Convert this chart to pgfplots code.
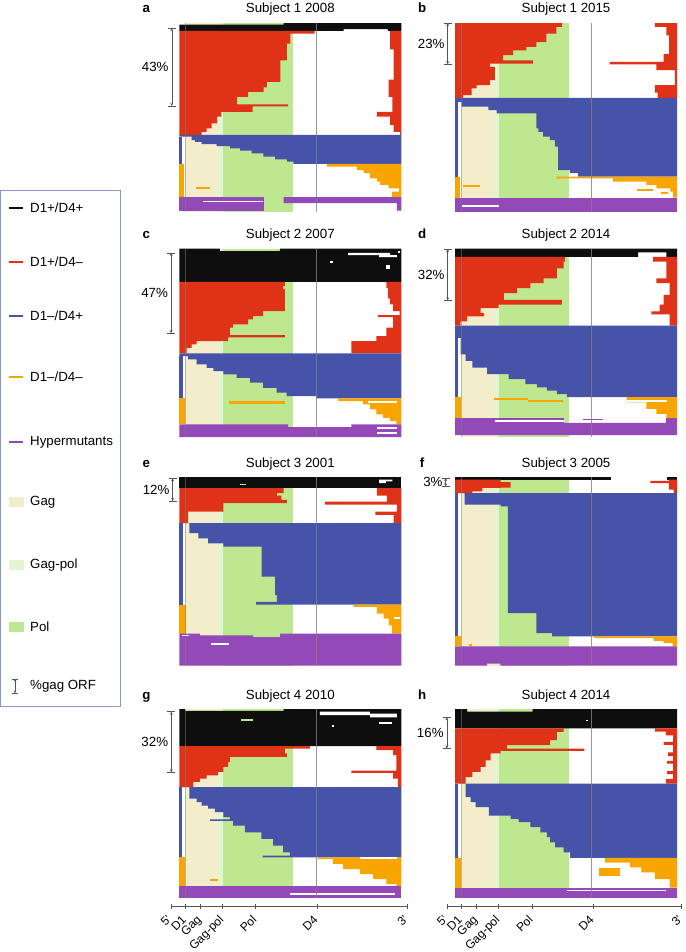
\documentclass[border=0pt]{standalone}
\usepackage{fontspec}
\setmainfont{Liberation Sans}
\usepackage{pgfplots}
\pgfplotsset{compat=1.18}
\usetikzlibrary{arrows.meta}

\definecolor{cBlack}{HTML}{0E0E0E}
\definecolor{cRed}{HTML}{E03216}
\definecolor{cBlue}{HTML}{4553A9}
\definecolor{cOrange}{HTML}{F8A500}
\definecolor{cPurple}{HTML}{9449B9}
\definecolor{cGag}{HTML}{F3EDCB}
\definecolor{cGagPol}{HTML}{E1F5D2}
\definecolor{cPol}{HTML}{BEE88F}
\definecolor{cFrame}{HTML}{8A96C8}
\definecolor{cAxis}{HTML}{555555}

\newcommand{\lab}{\fontsize{13.3pt}{15pt}\selectfont}
\newcommand{\tkfont}{\fontsize{12pt}{13.5pt}\selectfont}

\pgfplotsset{
  panel/.style={scale only axis, width=222pt, height=188.5pt,
    xmin=0, xmax=100, ymin=0, ymax=100, y dir=reverse, hide axis, clip=false,
    anchor=north west},
  fBk/.style={fill=cBlack, draw=none},
  fRd/.style={fill=cRed, draw=none},
  fBl/.style={fill=cBlue, draw=none},
  fOr/.style={fill=cOrange, draw=none},
  fPu/.style={fill=cPurple, draw=none},
  fWh/.style={fill=white, draw=none},
  fPl/.style={fill=cPol, draw=none},
  % genome position axis: same scale as the panels, a little wider
  ticks/.style={scale only axis, height=1pt, anchor=south west,
    ymin=0, ymax=1, axis y line=none, axis x line*=bottom,
    axis line style={-, cAxis}, tick style={cAxis}, tick align=center,
    major tick length=5pt,
    xticklabels={{5'},D1,Gag,Gag-pol,Pol,D4,{3'}},
    xticklabel style={rotate=45, anchor=north east, font=\tkfont, inner sep=1pt, xshift=-6pt}},
}

% background regions and guide lines shared by all panels
\newcommand{\regions}{%
  \addplot[fill=cGag, draw=none] coordinates {(2.6,0)(17.5,0)(17.5,100)(2.6,100)};
  \addplot[fill=cGagPol, draw=none] coordinates {(17.5,0)(19.8,0)(19.8,100)(17.5,100)};
  \addplot[fill=cPol, draw=none] coordinates {(19.8,0)(51.2,0)(51.2,100)(19.8,100)};}
\newcommand{\guides}{%
  \addplot[gray, line width=0.5pt, opacity=0.5] coordinates {(2.6,0)(2.6,100)};
  \addplot[gray, line width=0.6pt, opacity=0.8] coordinates {(61.6,0)(61.6,100)};}
% %gag ORF bracket
\newcommand{\pct}[4]{%
  \draw[cAxis, line width=0.5pt, {Stealth[length=3pt,width=3pt]}-{Stealth[length=3pt,width=3pt]}]
    (axis cs:#1,#2) -- (axis cs:#1,#3);
  \draw[cAxis, line width=0.5pt] ([xshift=-4pt]axis cs:#1,#2) -- ([xshift=4pt]axis cs:#1,#2);
  \draw[cAxis, line width=0.5pt] ([xshift=-4pt]axis cs:#1,#3) -- ([xshift=4pt]axis cs:#1,#3);
  \node[anchor=east, font=\lab, inner sep=0pt] at ([xshift=-3pt]axis cs:#1,{(#2+#3)/2}) {#4};}
% panel letter and title
\newcommand{\head}[2]{%
  \node[anchor=base, yshift=10pt, font=\lab\bfseries, inner sep=0pt] at (axis description cs:-0.148,1) {#1};
  \node[anchor=base, yshift=10pt, font=\lab, inner sep=0pt] at (axis description cs:0.5,1) {#2};}

\begin{document}
\begin{tikzpicture}
\path[use as bounding box] (0,0) rectangle (685pt,-952pt);

% ---------------- legend ----------------
\draw[cFrame, line width=0.8pt] (0.6pt,-190pt) rectangle (120pt,-706pt);
\draw[cBlack, line width=1.6pt] (8.5pt,-208pt) -- (23pt,-208pt);
\node[anchor=west, font=\lab, inner sep=0pt] at (30pt,-208pt) {D1+/D4+};
\draw[cRed, line width=1.6pt] (8.5pt,-262pt) -- (23pt,-262pt);
\node[anchor=west, font=\lab, inner sep=0pt] at (30pt,-262pt) {D1+/D4–};
\draw[cBlue, line width=1.6pt] (8.5pt,-316pt) -- (23pt,-316pt);
\node[anchor=west, font=\lab, inner sep=0pt] at (30pt,-316pt) {D1–/D4+};
\draw[cOrange, line width=1.6pt] (8.5pt,-377pt) -- (23pt,-377pt);
\node[anchor=west, font=\lab, inner sep=0pt] at (30pt,-377pt) {D1–/D4–};
\draw[cPurple, line width=1.6pt] (8.5pt,-442pt) -- (23pt,-442pt);
\node[anchor=west, font=\lab, inner sep=0pt] at (30pt,-442pt) {Hypermutants};
\fill[cGag] (9pt,-497pt) rectangle (23.5pt,-507pt);
\node[anchor=west, font=\lab, inner sep=0pt] at (30pt,-502pt) {Gag};
\fill[cGagPol] (9pt,-560pt) rectangle (23.5pt,-570pt);
\node[anchor=west, font=\lab, inner sep=0pt] at (30pt,-565pt) {Gag-pol};
\fill[cPol] (9pt,-622pt) rectangle (23.5pt,-632pt);
\node[anchor=west, font=\lab, inner sep=0pt] at (30pt,-627pt) {Pol};
\draw[cAxis, line width=0.5pt, {Stealth[length=2.5pt,width=2.5pt]}-{Stealth[length=2.5pt,width=2.5pt]}] (15pt,-679pt) -- (15pt,-693pt);
\draw[cAxis, line width=0.5pt] (12pt,-679pt) -- (18pt,-679pt) (12pt,-693pt) -- (18pt,-693pt);
\node[anchor=west, font=\lab, inner sep=0pt] at (30pt,-686pt) {\%gag ORF};

% ---------------- a ----------------
\begin{axis}[panel, at={(179.3pt,-23pt)}]
\regions
\addplot[fBk] coordinates {(0,0.8)(47,0.8)(47,0)(100,0)(100,4.2)(94,4.2)(94,3.2)(74,3.2)(74,4.2)(0,4.2)};
\addplot[fRd] coordinates {(0,4.2)(61,4.2)(61,5.6)(50,5.6)(50,10.9)(48.5,10.9)(48.5,19.8)(45.5,19.8)(45.5,31.2)(39.4,31.2)(39.4,34.2)(38,34.2)(38,36.5)(31,36.5)(31,39.2)(26,39.2)(26,43.2)(49,43.2)(49,44.2)(33,44.2)(33,47.1)(19,47.1)(19,49.7)(17,49.7)(17,53.3)(14.6,53.3)(14.6,55.9)(12.3,55.9)(12.3,57.7)(10,57.7)(10,59.4)(0,59.4)};
\addplot[fRd] coordinates {(100,4.2)(95,4.2)(95,14)(96.5,14)(96.5,30)(94.3,30)(94.3,39.2)(96,39.2)(96,47.1)(89,47.1)(89,49.7)(95,49.7)(95,54)(96.5,54)(96.5,57.7)(99.5,57.7)(99.5,59.4)(100,59.4)};
\addplot[fBl] coordinates {(0,59.4)(0,60.3)(5.6,60.3)(5.6,62.1)(7,62.1)(7,63)(10,63)(10,64.2)(16.8,64.2)(16.8,65.3)(22.9,65.3)(22.9,66.5)(27.4,66.5)(27.4,67.7)(32.6,67.7)(32.6,69.1)(37.9,69.1)(37.9,70.9)(43.2,70.9)(43.2,72.3)(48.4,72.3)(48.4,73.5)(51.4,73.5)(51.4,74.8)(100,74.8)(100,59.4)};
\addplot[fBl] coordinates {(0,60.3)(1.2,60.3)(1.2,74.8)(0,74.8)};
\addplot[fOr] coordinates {(0,74.8)(2,74.8)(2,92.4)(0,92.4)};
\addplot[fOr] coordinates {(7.4,87.1)(13.8,87.1)(13.8,88.2)(7.4,88.2)};
\addplot[fOr] coordinates {(100,74.8)(66.5,74.8)(66.5,76.2)(80,76.2)(80,78)(83,78)(83,79.7)(86,79.7)(86,82.4)(89,82.4)(89,84.1)(90.5,84.1)(90.5,85.9)(94.3,85.9)(94.3,87.7)(99,87.7)(99,89.4)(95.8,89.4)(95.8,92.4)(100,92.4)};
\addplot[fPu] coordinates {(0,92.4)(38,92.4)(38,99.5)(0,99.5)};
\addplot[fPu] coordinates {(47,92.4)(100,92.4)(100,99.5)(98,99.5)(98,95.5)(47,95.5)};
\addplot[fWh] coordinates {(10.8,94.4)(37.9,94.4)(37.9,95.2)(10.8,95.2)};
\guides
\pct{-3.4}{2.8}{44}{43\%}
\head{a}{Subject 1 2008}
\end{axis}

% ---------------- b ----------------
\begin{axis}[panel, at={(455pt,-23pt)}]
\regions
\addplot[fRd] coordinates {(0,0)(48.3,0)(48.3,2.1)(45.7,2.1)(45.7,5.6)(41.2,5.6)(41.2,10.1)(36.7,10.1)(36.7,12.7)(32.2,12.7)(32.2,14.5)(26.2,14.5)(26.2,17.1)(21.7,17.1)(21.7,19.8)(35.2,19.8)(35.2,21.5)(15.7,21.5)(15.7,23.3)(18,23.3)(18,30.3)(15.7,30.3)(15.7,33)(9.7,33)(9.7,34.7)(7.5,34.7)(7.5,38.3)(3.7,38.3)(3.7,39.7)(0,39.7)};
\addplot[fRd] coordinates {(100,0)(90,0)(90,2.1)(95.2,2.1)(95.2,6.5)(96.5,6.5)(96.5,16.5)(94,16.5)(94,20.6)(69.7,20.6)(69.7,21.9)(90.7,21.9)(90.7,25)(99,25)(99,33)(90,33)(90,37)(91.3,37)(91.3,39.7)(100,39.7)};
\addplot[fBl] coordinates {(0,39.7)(0,41.8)(3,41.8)(3,44.4)(15,44.4)(15,46.2)(18.7,46.2)(18.7,48)(36.7,48)(36.7,55.9)(37.5,55.9)(37.5,57.7)(39.7,57.7)(39.7,60.3)(42.7,60.3)(42.7,62.1)(45,62.1)(45,65.6)(46.5,65.6)(46.5,78)(51.7,78)(51.7,79.7)(55.5,79.7)(55.5,81.5)(100,81.5)(100,39.7)};
\addplot[fBl] coordinates {(0,41.8)(1.5,41.8)(1.5,81.5)(0,81.5)};
\addplot[fOr] coordinates {(0,81.5)(2.2,81.5)(2.2,92.6)(0,92.6)};
\addplot[fOr] coordinates {(3.7,85.9)(11.2,85.9)(11.2,86.8)(3.7,86.8)};
\addplot[fOr] coordinates {(100,81.5)(45.7,81.5)(45.7,82.4)(71.2,82.4)(71.2,84.1)(86.2,84.1)(86.2,85.9)(90.7,85.9)(90.7,87.7)(97,87.7)(97,89.4)(98.2,89.4)(98.2,92.6)(100,92.6)};
\addplot[fOr] coordinates {(82,88)(89,88)(89,89)(82,89)};
\addplot[fOr] coordinates {(93,89.6)(96,89.6)(96,90.5)(93,90.5)};
\addplot[fPu] coordinates {(0,92.6)(100,92.6)(100,100)(0,100)};
\addplot[fWh] coordinates {(3,96.5)(20,96.5)(20,97.7)(3,97.7)};
\guides
\pct{-3.3}{0}{21.9}{23\%}
\head{b}{Subject 1 2015}
\end{axis}

% ---------------- c ----------------
\begin{axis}[panel, at={(179.3pt,-248.5pt)}]
\regions
\addplot[fBk] coordinates {(0,0)(18.3,0)(18.3,1.4)(45.3,1.4)(45.3,0)(100,0)(100,17.7)(0,17.7)};
\addplot[fWh] coordinates {(76,2.3)(95,2.3)(95,3.5)(98,3.5)(98,4.6)(90,4.6)(90,3.5)(76,3.5)};
\addplot[fWh] coordinates {(98.5,1.4)(99.5,1.4)(99.5,2.5)(98.5,2.5)};
\addplot[fWh] coordinates {(68,6.7)(69.2,6.7)(69.2,7.9)(68,7.9)};
\addplot[fWh] coordinates {(93.3,8.5)(94.8,8.5)(94.8,11.1)(93.3,11.1)};
\addplot[fRd] coordinates {(0,17.7)(47.5,17.7)(47.5,20)(46.8,20)(46.8,21.5)(47.5,21.5)(47.5,33.2)(37.8,33.2)(37.8,35.9)(33.3,35.9)(33.3,37.6)(31,37.6)(31,40.3)(24.3,40.3)(24.3,42)(22.8,42)(22.8,45.9)(47.5,45.9)(47.5,47.1)(22,47.1)(22,49.1)(7.8,49.1)(7.8,50.9)(5.5,50.9)(5.5,52.7)(3.3,52.7)(3.3,55.7)(0,55.7)};
\addplot[fRd] coordinates {(100,17.7)(93.3,17.7)(93.3,21)(94,21)(94,26.5)(94.8,26.5)(94.8,29.7)(96.3,29.7)(96.3,33.2)(99.2,33.2)(99.2,35.3)(89.5,35.3)(89.5,36.4)(96.3,36.4)(96.3,42)(93.3,42)(93.3,46.5)(88.8,46.5)(88.8,49.1)(77.5,49.1)(77.5,55.7)(100,55.7)};
\addplot[fBl] coordinates {(0,55.7)(0,57.1)(4,57.1)(4,58.8)(7.8,58.8)(7.8,61.5)(12.3,61.5)(12.3,63.3)(15.3,63.3)(15.3,65)(19.8,65)(19.8,66.8)(25.8,66.8)(25.8,68.6)(31.8,68.6)(31.8,71.2)(37.8,71.2)(37.8,73.9)(43.8,73.9)(43.8,76.5)(48.3,76.5)(48.3,78.3)(61.8,78.3)(61.8,79.5)(100,79.5)(100,55.7)};
\addplot[fBl] coordinates {(0,57.1)(1.5,57.1)(1.5,79.5)(0,79.5)};
\addplot[fOr] coordinates {(0,79.5)(2.5,79.5)(2.5,93.3)(0,93.3)};
\addplot[fOr] coordinates {(22.5,80.9)(47.5,80.9)(47.5,82.3)(22.5,82.3)};
\addplot[fOr] coordinates {(100,79.5)(71.5,79.5)(71.5,80.9)(82.8,80.9)(82.8,82.7)(85.8,82.7)(85.8,85.3)(88.8,85.3)(88.8,88)(91.8,88)(91.8,89.8)(94.8,89.8)(94.8,91.5)(97.8,91.5)(97.8,93.3)(100,93.3)};
\addplot[fWh] coordinates {(85,80.9)(98,80.9)(98,81.8)(85,81.8)};
\addplot[fPu] coordinates {(0,93.3)(49,93.3)(49,94.7)(77.5,94.7)(77.5,93.3)(100,93.3)(100,100)(0,100)};
\addplot[fWh] coordinates {(89,94.5)(98,94.5)(98,95.8)(89,95.8)};
\addplot[fWh] coordinates {(89,97.3)(98,97.3)(98,98.2)(89,98.2)};
\guides
\pct{-3.7}{2.3}{44.9}{47\%}
\head{c}{Subject 2 2007}
\end{axis}

% ---------------- d ----------------
\begin{axis}[panel, at={(455pt,-248.5pt)}]
\regions
\addplot[fBk] coordinates {(0,0)(100,0)(100,4.4)(95.2,4.4)(95.2,2.1)(82.5,2.1)(82.5,4.4)(0,4.4)};
\addplot[fRd] coordinates {(0,4.4)(49.6,4.4)(49.6,7)(48.9,7)(48.9,10.5)(45.9,10.5)(45.9,15.8)(39.9,15.8)(39.9,18.4)(33.9,18.4)(33.9,21)(28,21)(28,23.7)(22,23.7)(22,27.2)(48.1,27.2)(48.1,29.8)(19.7,29.8)(19.7,31.6)(11.5,31.6)(11.5,34.2)(13,34.2)(13,36)(5.5,36)(5.5,38.6)(2.5,38.6)(2.5,40.9)(0,40.9)};
\addplot[fRd] coordinates {(100,4.4)(89.2,4.4)(89.2,7)(95.2,7)(95.2,15.8)(90.7,15.8)(90.7,18.4)(96.7,18.4)(96.7,24.6)(94,24.6)(94,29.8)(92.2,29.8)(92.2,33.3)(88.5,33.3)(88.5,35)(96.7,35)(96.7,40.9)(100,40.9)};
\addplot[fBl] coordinates {(0,40.9)(0,47.4)(2.5,47.4)(2.5,56.1)(4.8,56.1)(4.8,59.6)(7.8,59.6)(7.8,63.2)(14.5,63.2)(14.5,66.7)(24.2,66.7)(24.2,69.3)(31.7,69.3)(31.7,71.9)(36.9,71.9)(36.9,73.7)(41.4,73.7)(41.4,75.4)(45.9,75.4)(45.9,77.2)(50.4,77.2)(50.4,78.9)(100,78.9)(100,40.9)};
\addplot[fBl] coordinates {(0,47.4)(1.5,47.4)(1.5,78.9)(0,78.9)};
\addplot[fOr] coordinates {(0,78.9)(2.5,78.9)(2.5,90)(0,90)};
\addplot[fOr] coordinates {(17.5,79.3)(33,79.3)(33,80.4)(17.5,80.4)};
\addplot[fOr] coordinates {(33,80.2)(48.5,80.2)(48.5,81.2)(33,81.2)};
\addplot[fOr] coordinates {(100,78.9)(77.3,78.9)(77.3,81.6)(86.2,81.6)(86.2,85.1)(90.7,85.1)(90.7,87.7)(95.2,87.7)(95.2,90)(100,90)};
\addplot[fWh] coordinates {(77.3,80.2)(95.5,80.2)(95.5,81.2)(77.3,81.2)};
\addplot[fPu] coordinates {(0,90)(49,90)(49,92.5)(95,92.5)(95,90)(100,90)(100,99)(0,99)};
\addplot[fPu] coordinates {(57.8,90.4)(66.8,90.4)(66.8,91.2)(57.8,91.2)};
\addplot[fWh] coordinates {(18.2,90.9)(48.9,90.9)(48.9,91.8)(18.2,91.8)};
\guides
\pct{-3.3}{0.3}{27.5}{32\%}
\head{d}{Subject 2 2014}
\end{axis}

% ---------------- e ----------------
\begin{axis}[panel, at={(179.3pt,-477pt)}]
\regions
\addplot[fBk] coordinates {(0,0)(100,0)(100,5.9)(0,5.9)};
\addplot[fPl] coordinates {(27.4,3.6)(30,3.6)(30,4.4)(27.4,4.4)};
\addplot[fWh] coordinates {(90,1.4)(96,1.4)(96,2.3)(93,2.3)(93,3.2)(90,3.2)};
\addplot[fRd] coordinates {(0,5.9)(47,5.9)(47,8.5)(44,8.5)(44,9.9)(46,9.9)(46,12.1)(48.4,12.1)(48.4,13.9)(19.8,13.9)(19.8,18.3)(4,18.3)(4,24.5)(0,24.5)};
\addplot[fRd] coordinates {(100,5.9)(89,5.9)(89,9.9)(93.5,9.9)(93.5,13)(65.7,13)(65.7,14.7)(98,14.7)(98,18.3)(88.3,18.3)(88.3,20.1)(96.5,20.1)(96.5,24.5)(100,24.5)};
\addplot[fBl] coordinates {(0,24.5)(4.5,24.5)(4.5,29.8)(8.6,29.8)(8.6,32.5)(13,32.5)(13,35.2)(19.8,35.2)(19.8,36.9)(37.1,36.9)(37.1,52.9)(43.2,52.9)(43.2,62.7)(44,62.7)(44,66.3)(34.6,66.3)(34.6,67.7)(100,67.7)(100,24.5)};
\addplot[fBl] coordinates {(0,24.5)(1.5,24.5)(1.5,67.7)(0,67.7)};
\addplot[fOr] coordinates {(0,67.7)(3,67.7)(3,83.1)(0,83.1)};
\addplot[fOr] coordinates {(100,67.7)(78.5,67.7)(78.5,68.9)(89,68.9)(89,72.5)(92,72.5)(92,75.1)(94.3,75.1)(94.3,78.7)(95.8,78.7)(95.8,83.1)(100,83.1)};
\addplot[fWh] coordinates {(96.5,74.4)(99.5,74.4)(99.5,75.5)(96.5,75.5)};
\addplot[fPu] coordinates {(0,83.1)(9.3,83.1)(9.3,84)(33.4,84)(33.4,85)(45.4,85)(45.4,83.1)(100,83.1)(100,100)(0,100)};
\addplot[fWh] coordinates {(1,84)(4.5,84)(4.5,84.6)(1,84.6)};
\addplot[fWh] coordinates {(14.3,88.3)(22.6,88.3)(22.6,88.9)(14.3,88.9)};
\guides
\pct{-3}{0.7}{12.8}{12\%}
\head{e}{Subject 3 2001}
\end{axis}

% ---------------- f ----------------
\begin{axis}[panel, at={(455pt,-477pt)}]
\regions
\addplot[fBk] coordinates {(0,0)(70.3,0)(70.3,1.4)(0,1.4)};
\addplot[fBk] coordinates {(95.5,0)(100,0)(100,1.4)(95.5,1.4)};
\addplot[fRd] coordinates {(0,1.4)(20.5,1.4)(20.5,2.7)(25,2.7)(25,5.6)(20.5,5.6)(20.5,5.8)(12.3,5.8)(12.3,7.6)(7.8,7.6)(7.8,8.5)(0,8.5)};
\addplot[fRd] coordinates {(100,1.4)(96.3,1.4)(96.3,2.1)(88,2.1)(88,3.2)(96.3,3.2)(96.3,6.7)(98.5,6.7)(98.5,8.5)(100,8.5)};
\addplot[fBl] coordinates {(0,8.5)(4.3,8.5)(4.3,14.7)(20.5,14.7)(20.5,15.6)(23.8,15.6)(23.8,72.2)(36.7,72.2)(36.7,82.8)(43.8,82.8)(43.8,84.6)(100,84.6)(100,8.5)};
\addplot[fBl] coordinates {(0,8.5)(1.5,8.5)(1.5,84.6)(0,84.6)};
\addplot[fOr] coordinates {(0,84.6)(2.5,84.6)(2.5,89.9)(0,89.9)};
\addplot[fOr] coordinates {(6.4,88.5)(7.5,88.5)(7.5,89.4)(6.4,89.4)};
\addplot[fOr] coordinates {(100,84.6)(62.5,84.6)(62.5,85.5)(89.5,85.5)(89.5,86.9)(94,86.9)(94,88.1)(98,88.1)(98,89.9)(100,89.9)};
\addplot[fPu] coordinates {(0,89.9)(100,89.9)(100,100)(20.5,100)(20.5,99)(14.5,99)(14.5,100)(0,100)};
\guides
\pct{-4.2}{0.5}{5}{3\%}
\head{f}{Subject 3 2005}
\end{axis}

% ---------------- g ----------------
\begin{axis}[panel, at={(179.3pt,-709pt)}]
\regions
\addplot[fBk] coordinates {(0,0)(2.6,0)(2.6,1)(47,1)(47,0)(100,0)(100,19.7)(0,19.7)};
\addplot[fPl] coordinates {(28,5.5)(33,5.5)(33,6.4)(28,6.4)};
\addplot[fWh] coordinates {(63.3,1.4)(85.8,1.4)(85.8,2.5)(98,2.5)(98,4.5)(86,4.5)(86,3.2)(63.3,3.2)};
\addplot[fWh] coordinates {(90,6.7)(96,6.7)(96,7.8)(90,7.8)};
\addplot[fWh] coordinates {(69,8.5)(69.6,8.5)(69.6,9.5)(69,9.5)};
\addplot[fRd] coordinates {(0,19.7)(58.8,19.7)(58.8,21)(47.5,21)(47.5,23.6)(48.4,23.6)(48.4,25.4)(22.8,25.4)(22.8,28.1)(22,28.1)(22,30.7)(19.8,30.7)(19.8,33.4)(17.5,33.4)(17.5,35.2)(12.3,35.2)(12.3,36.9)(9.3,36.9)(9.3,38.7)(6.3,38.7)(6.3,41.4)(0,41.4)};
\addplot[fRd] coordinates {(100,19.7)(88.8,19.7)(88.8,21.8)(96.3,21.8)(96.3,24.5)(97.8,24.5)(97.8,32.7)(77.5,32.7)(77.5,33.9)(96.3,33.9)(96.3,36.9)(98.5,36.9)(98.5,41.4)(100,41.4)};
\addplot[fBl] coordinates {(0,41.4)(4.5,41.4)(4.5,47.6)(7.8,47.6)(7.8,49.4)(10,49.4)(10,51.2)(13,51.2)(13,52.9)(16,52.9)(16,54.7)(19.8,54.7)(19.8,57.4)(22.8,57.4)(22.8,58.6)(13.8,58.6)(13.8,59.4)(24.3,59.4)(24.3,61.8)(29.5,61.8)(29.5,65.4)(37,65.4)(37,68.9)(42.3,68.9)(42.3,72.5)(46.8,72.5)(46.8,76)(49.8,76)(49.8,77.8)(37.5,77.8)(37.5,78.7)(100,78.7)(100,41.4)};
\addplot[fBl] coordinates {(0,41.4)(1.2,41.4)(1.2,78.7)(0,78.7)};
\addplot[fOr] coordinates {(0,78.7)(2.5,78.7)(2.5,93.8)(0,93.8)};
\addplot[fOr] coordinates {(13.8,90.2)(17.5,90.2)(17.5,91.1)(13.8,91.1)};
\addplot[fOr] coordinates {(100,78.7)(62.5,78.7)(62.5,79.6)(69.3,79.6)(69.3,82.2)(73.8,82.2)(73.8,84.9)(81.3,84.9)(81.3,87.6)(87.3,87.6)(87.3,90.2)(93.3,90.2)(93.3,92.9)(97.8,92.9)(97.8,93.8)(100,93.8)};
\addplot[fWh] coordinates {(81.3,78.7)(98,78.7)(98,79.4)(81.3,79.4)};
\addplot[fPu] coordinates {(0,93.8)(100,93.8)(100,100)(0,100)};
\addplot[fWh] coordinates {(49.8,97.5)(97,97.5)(97,98.6)(49.8,98.6)};
\guides
\pct{-3.6}{1.4}{33.6}{32\%}
\head{g}{Subject 4 2010}
\end{axis}

% ---------------- h ----------------
\begin{axis}[panel, at={(455pt,-709pt)}]
\regions
\addplot[fBk] coordinates {(0,0)(5.5,0)(5.5,1.4)(35,1.4)(35,0)(100,0)(100,10.3)(0,10.3)};
\addplot[fWh] coordinates {(59,5.7)(60,5.7)(60,6.4)(59,6.4)};
\addplot[fRd] coordinates {(0,10.3)(48.9,10.3)(48.9,12.1)(45.9,12.1)(45.9,16.5)(42.9,16.5)(42.9,19.2)(23.5,19.2)(23.5,21)(58.3,21)(58.3,22.2)(20.5,22.2)(20.5,23.6)(16,23.6)(16,27.2)(13.8,27.2)(13.8,30.7)(11.5,30.7)(11.5,33.4)(7.8,33.4)(7.8,36.1)(4.8,36.1)(4.8,39.6)(0,39.6)};
\addplot[fRd] coordinates {(100,10.3)(90,10.3)(90,12)(95,12)(95,14)(98.2,14)(98.2,17.5)(94,17.5)(94,19)(98.2,19)(98.2,23)(96,23)(96,25)(98.2,25)(98.2,27.5)(95.5,27.5)(95.5,29)(98.2,29)(98.2,33)(95.5,33)(95.5,34.5)(98.2,34.5)(98.2,37)(95,37)(95,39.6)(100,39.6)};
\addplot[fBl] coordinates {(0,39.6)(4.8,39.6)(4.8,46.7)(7,46.7)(7,49.4)(9.3,49.4)(9.3,52)(15.2,52)(15.2,56.5)(25,56.5)(25,58.3)(28.7,58.3)(28.7,60)(33.9,60)(33.9,62.7)(38.4,62.7)(38.4,65.4)(41.4,65.4)(41.4,68)(42.9,68)(42.9,70.7)(45.1,70.7)(45.1,73.4)(48.9,73.4)(48.9,76)(51.9,76)(51.9,79)(100,79)(100,39.6)};
\addplot[fBl] coordinates {(0,39.6)(1.3,39.6)(1.3,79)(0,79)};
\addplot[fOr] coordinates {(0,79)(2.5,79)(2.5,94.7)(0,94.7)};
\addplot[fOr] coordinates {(64.9,84.5)(74.3,84.5)(74.3,88.8)(64.9,88.8)};
\addplot[fOr] coordinates {(100,79)(67.6,79)(67.6,81.5)(78.8,81.5)(78.8,84)(84,84)(84,86.7)(90,86.7)(90,90.2)(96.7,90.2)(96.7,94.7)(100,94.7)};
\addplot[fPu] coordinates {(0,94.7)(100,94.7)(100,100)(0,100)};
\addplot[fWh] coordinates {(50.4,95.9)(95.2,95.9)(95.2,96.8)(50.4,96.8)};
\guides
\pct{-3.7}{4.4}{20.9}{16\%}
\head{h}{Subject 4 2014}
\end{axis}

% ---------------- bottom position axes ----------------
\begin{axis}[ticks, at={(170.6pt,-906pt)}, width=236.7pt, xmin=-3.9, xmax=102.7,
  xtick={-3.9,2.7,9.4,19.4,34.3,62,102.7}]
\addplot[draw=none] coordinates {(0,0)(100,1)};
\end{axis}
\begin{axis}[ticks, at={(446.8pt,-906pt)}, width=234.7pt, xmin=-3.7, xmax=102,
  xtick={-3.7,2.8,9.6,19.5,34.5,62.1,102}]
\addplot[draw=none] coordinates {(0,0)(100,1)};
\end{axis}
\end{tikzpicture}
\end{document}
